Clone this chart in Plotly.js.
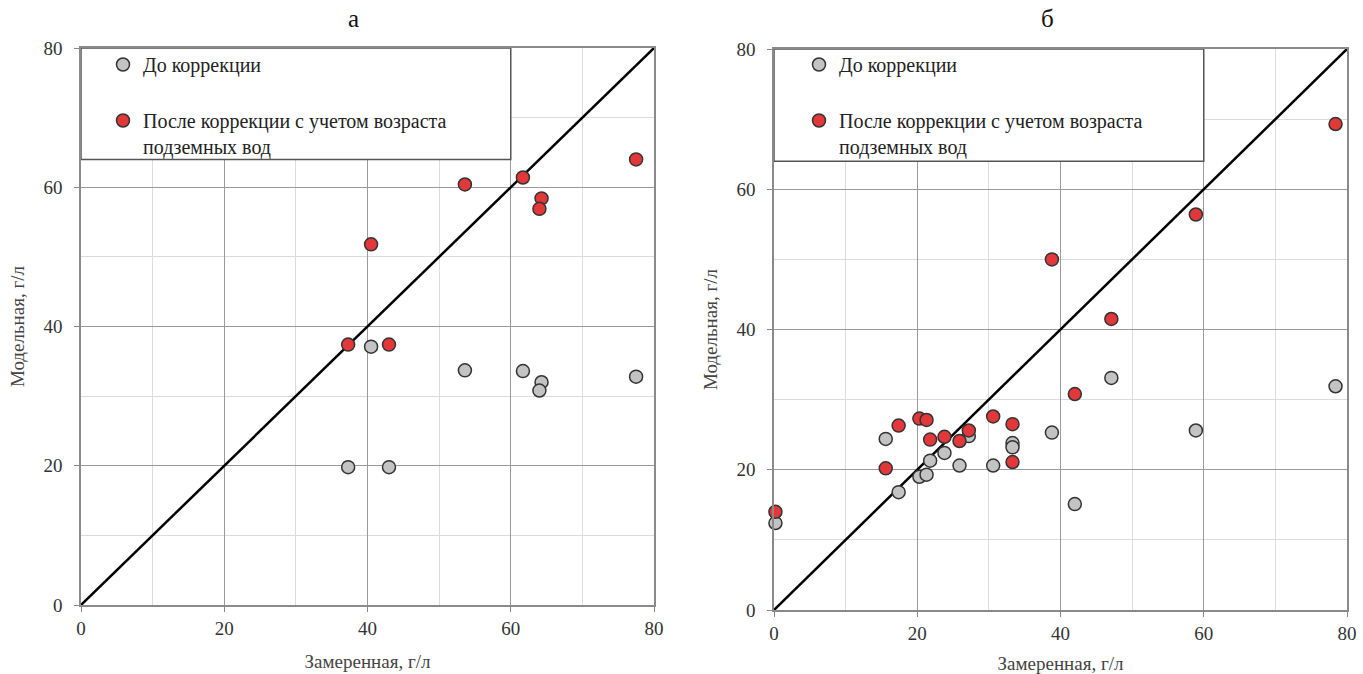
<!DOCTYPE html>
<html>
<head>
<meta charset="utf-8">
<script src="https://cdn.plot.ly/plotly-3.0.1.min.js"></script>
<style>
html,body{margin:0;padding:0;background:#fff;}
</style>
</head>
<body>
<div id="chart"></div>
<script>
// ---- data ----
const panelTitles = ['а', 'б'];
const seriesNames = ['До коррекции', 'После коррекции с учетом возраста<br>подземных вод'];
const xTitle = 'Замеренная, г/л';
const yTitle = 'Модельная, г/л';
const tickVals = [0, 20, 40, 60, 80];
const tickText = ['0', '20', '40', '60', '80'];
const diagX = [0, 80];
const diagY = [0, 80];

// panel а
const leftX      = [37.3, 43.0, 40.5, 53.6, 61.7, 64.3, 64.0, 77.5];
const leftBefore = [19.8, 19.8, 37.1, 33.7, 33.6, 32.0, 30.8, 32.8];
const leftAfter  = [37.4, 37.4, 51.8, 60.4, 61.4, 58.4, 56.9, 64.0];

// panel б
const rightX      = [0.2, 15.6, 17.4, 20.3, 21.3, 21.8, 23.8, 25.9, 27.2, 30.6, 33.3, 33.3, 38.8, 42.0, 47.1, 58.9, 78.4];
const rightBefore = [12.4, 24.4, 16.8, 19.0, 19.3, 21.3, 22.4, 20.6, 24.8, 20.6, 23.8, 23.2, 25.3, 15.1, 33.1, 25.6, 31.9];
const rightAfter  = [14.0, 20.2, 26.3, 27.3, 27.1, 24.3, 24.7, 24.1, 25.6, 27.6, 26.5, 21.1, 50.0, 30.8, 41.5, 56.4, 69.3];

// ---- styles ----
const GRAY = '#c3c3c3';
const RED = '#e2383a';
const EDGE = '#333333';
const FONT = 'Liberation Serif';

function pts(x, y, name, color, xa, ya, leg, group) {
  return {
    type: 'scatter', mode: 'markers', x: x, y: y, name: name,
    xaxis: xa, yaxis: ya, legend: leg, legendgroup: group,
    cliponaxis: false,
    marker: {size: 13, color: color, line: {color: EDGE, width: 1.5}},
    hoverinfo: 'x+y'
  };
}
function diag(xa, ya) {
  return {type: 'scatter', mode: 'lines', x: diagX, y: diagY, xaxis: xa, yaxis: ya,
    showlegend: false, line: {color: '#000', width: 2.5}, hoverinfo: 'skip'};
}

const data = [
  diag('x', 'y'),
  pts(leftX, leftBefore, seriesNames[0], GRAY, 'x', 'y', 'legend', 'a1'),
  pts(leftX, leftAfter, seriesNames[1], RED, 'x', 'y', 'legend', 'a2'),
  diag('x2', 'y2'),
  pts(rightX, rightBefore, seriesNames[0], GRAY, 'x2', 'y2', 'legend2', 'b1'),
  pts(rightX, rightAfter, seriesNames[1], RED, 'x2', 'y2', 'legend2', 'b2')
];

function axis(domain, anchor, title, isY) {
  return {
    domain: domain, anchor: anchor, range: [0, 80], fixedrange: true,
    tickvals: tickVals, ticktext: tickText,
    ticks: 'outside', ticklen: 5, tickcolor: '#888', tickwidth: 1,
    ticklabelstandoff: isY ? 8 : 0,
    showgrid: true, gridcolor: '#9a9a9a', gridwidth: 1.2,
    minor: {dtick: 10, showgrid: true, gridcolor: '#dcdcdc', gridwidth: 1, ticks: ''},
    showline: true, linecolor: '#8a8a8a', linewidth: 1.5, mirror: true,
    zeroline: false,
    tickfont: {family: FONT, size: 19, color: '#333'},
    title: {text: title, font: {family: FONT, size: 19, color: '#444'}, standoff: isY ? 14 : 17}
  };
}

const legendStyle = {
  bgcolor: 'rgba(0,0,0,0)', borderwidth: 0,
  font: {family: FONT, size: 20, color: '#222'},
  traceorder: 'grouped', tracegroupgap: 27, valign: 'top',
  xanchor: 'left', yanchor: 'top'
};

const layout = {
  width: 1363, height: 674,
  margin: {l: 0, r: 0, t: 0, b: 0},
  paper_bgcolor: '#fff', plot_bgcolor: '#fff',
  showlegend: true,
  xaxis: axis([81/1363, 654/1363], 'y', xTitle, false),
  yaxis: axis([1 - 605/674, 1 - 48/674], 'x', yTitle, true),
  xaxis2: axis([774/1363, 1347/1363], 'y2', xTitle, false),
  yaxis2: axis([1 - 610/674, 1 - 49/674], 'x2', yTitle, true),
  legend: Object.assign({}, legendStyle, {x: 103/1363, y: 1 - 45/674}),
  legend2: Object.assign({}, legendStyle, {x: 799/1363, y: 1 - 45/674}),
  shapes: [
    {type: 'rect', xref: 'x', yref: 'y', x0: 0, x1: 60, y0: 64, y1: 80,
     fillcolor: '#fff', line: {color: '#555', width: 1.5}, layer: 'above'},
    {type: 'rect', xref: 'x2', yref: 'y2', x0: 0, x1: 60, y0: 64, y1: 80,
     fillcolor: '#fff', line: {color: '#555', width: 1.5}, layer: 'above'}
  ],
  annotations: [
    {text: panelTitles[0], xref: 'x domain', yref: 'paper', x: 0.475, y: 1 - 18/674,
     showarrow: false, font: {family: FONT, size: 25, color: '#111'}, yanchor: 'middle'},
    {text: panelTitles[1], xref: 'x2 domain', yref: 'paper', x: 0.4765, y: 1 - 18/674,
     showarrow: false, font: {family: FONT, size: 25, color: '#111'}, yanchor: 'middle'}
  ]
};

Plotly.newPlot('chart', data, layout, {displayModeBar: false});
</script>
</body>
</html>
